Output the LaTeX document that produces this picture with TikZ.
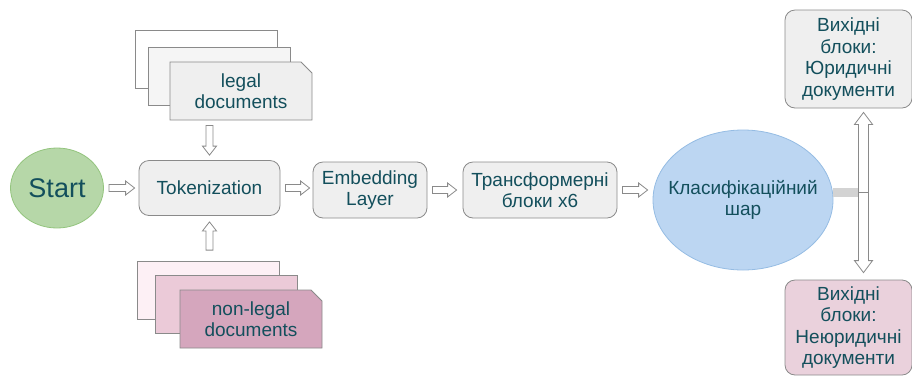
\documentclass[tikz,border=0pt]{standalone}
\usepackage{fontspec}
\setmainfont{Liberation Sans}
\usepackage{tikz}
\usepackage{xcolor}
\usetikzlibrary{shapes.geometric,shapes.misc,calc}

\definecolor{txtcyan}{HTML}{134F5C}
\definecolor{boxgray}{HTML}{EFEFEF}
\definecolor{edgegray}{HTML}{8A8A8A}
\definecolor{startgreen}{HTML}{B6D7A8}
\definecolor{startedge}{HTML}{93C47D}
\definecolor{clsblue}{HTML}{BCD6F2}
\definecolor{clsedge}{HTML}{95BCE3}
\definecolor{pinkA}{HTML}{FDF0F5}
\definecolor{pinkB}{HTML}{EBCAD8}
\definecolor{pinkC}{HTML}{D5A6BD}
\definecolor{outpink}{HTML}{EAD1DC}
\definecolor{bargray}{HTML}{D3D3D3}

\tikzset{
  every node/.style={text=txtcyan, font=\fontsize{19}{21.5}\selectfont, align=center},
  stepbox/.style={draw=edgegray, fill=boxgray, rounded corners=10pt, inner sep=0pt, line width=0.8pt},
  sheet/.style={chamfered rectangle, chamfered rectangle corners=north east,
    chamfered rectangle xsep=6pt, chamfered rectangle ysep=5pt, draw=edgegray, line width=0.8pt,
    inner sep=0pt, minimum width=142pt, minimum height=58pt},
  startnode/.style={ellipse, draw=startedge, fill=startgreen, line width=0.8pt, inner sep=0pt,
    minimum width=93pt, minimum height=80pt, font=\fontsize{27}{30}\selectfont},
  clsnode/.style={ellipse, draw=clsedge, fill=clsblue, line width=0.8pt, inner xsep=-20pt, inner ysep=0pt,
    minimum width=180pt, minimum height=140pt},
  arrowbody/.style={draw=edgegray, fill=white, line width=0.8pt},
  feedbar/.style={draw=bargray, line width=9pt},
  tickline/.style={draw=edgegray, line width=0.8pt}
}

\newcommand\blockarrow[2]{%
  \draw[arrowbody] let \p1=(#1), \p2=(#2),
    \n1={veclen(\x2-\x1,\y2-\y1)}, \n2={atan2(\y2-\y1,\x2-\x1)} in
    {[shift={(\p1)}, rotate=\n2]
      (0pt,-3.5pt) -- (\n1-9pt,-3.5pt) -- (\n1-9pt,-7pt) -- (\n1,0pt)
      -- (\n1-9pt,7pt) -- (\n1-9pt,3.5pt) -- (0pt,3.5pt) -- cycle};}

\newcommand\twowayarrow[2]{%
  \draw[arrowbody] let \p1=(#1), \p2=(#2),
    \n1={veclen(\x2-\x1,\y2-\y1)}, \n2={atan2(\y2-\y1,\x2-\x1)} in
    {[shift={(\p1)}, rotate=\n2]
      (0pt,0pt) -- (12pt,-9pt) -- (12pt,-5pt) -- (\n1-12pt,-5pt) -- (\n1-12pt,-9pt) -- (\n1,0pt)
      -- (\n1-12pt,9pt) -- (\n1-12pt,5pt) -- (12pt,5pt) -- (12pt,9pt) -- cycle};}

\begin{document}
\begin{tikzpicture}[x=1pt,y=-1pt]
  \useasboundingbox (0,0) rectangle (912,376);

  \node[startnode] at(57,188)(start){Start};
  \node[stepbox, minimum width=141pt, minimum height=55pt] at(209.5,188)(tok){Tokenization};
  \node[stepbox, minimum width=114pt, minimum height=56pt] at(370,190)(emb){Embedding\\Layer};
  \node[stepbox, minimum width=154pt, minimum height=56pt] at(540,190)(trans){Трансформерні\\блоки x6};
  \node[clsnode] at(743,200)(cls){Класифікаційний\\шар};
  \node[stepbox, minimum width=127pt, minimum height=98pt] at(848.5,59)(outlegal){Вихідні\\блоки:\\Юридичні\\документи};
  \node[stepbox, fill=outpink, minimum width=127pt, minimum height=95pt] at(848.5,327.5)(outother){Вихідні\\блоки:\\Неюридичні\\документи};

  \node[sheet, fill=white] at(206,59)(legback){};
  \node[sheet, fill=boxgray!60] at(219,76)(legmid){};
  \node[sheet, fill=boxgray] at(241,91)(legfront){legal\\documents};
  \node[sheet, fill=pinkA] at(208,290.5)(nonback){};
  \node[sheet, fill=pinkB] at(226,304.5)(nonmid){};
  \node[sheet, fill=pinkC] at(251,319)(nonfront){non-legal\\documents};

  \blockarrow{[xshift=5pt]start.east}{[xshift=-4pt]tok.west |- start.east}
  \blockarrow{[xshift=5pt]tok.east}{[xshift=-3pt]emb.west |- tok.east}
  \blockarrow{[xshift=5pt]emb.east}{[xshift=-6pt]trans.west |- emb.east}
  \blockarrow{[xshift=5pt]trans.east}{[xshift=-5pt]cls.west |- trans.east}
  \blockarrow{$(tok |- legfront.south)+(0,5)$}{$(tok.north)+(0,-5)$}
  \blockarrow{$(tok |- nonback.north)+(0,-11)$}{$(tok.south)+(0,6)$}

  \coordinate (split) at (863.5,192.5);
  \draw[feedbar] (cls.east |- split) -- ([xshift=-5pt]split);
  \twowayarrow{$(outlegal.south)+(15,4)$}{$(outother.north)+(15,-7)$}
  \draw[tickline] ([xshift=-5pt]split) -- ([xshift=5pt]split);
\end{tikzpicture}
\end{document}
